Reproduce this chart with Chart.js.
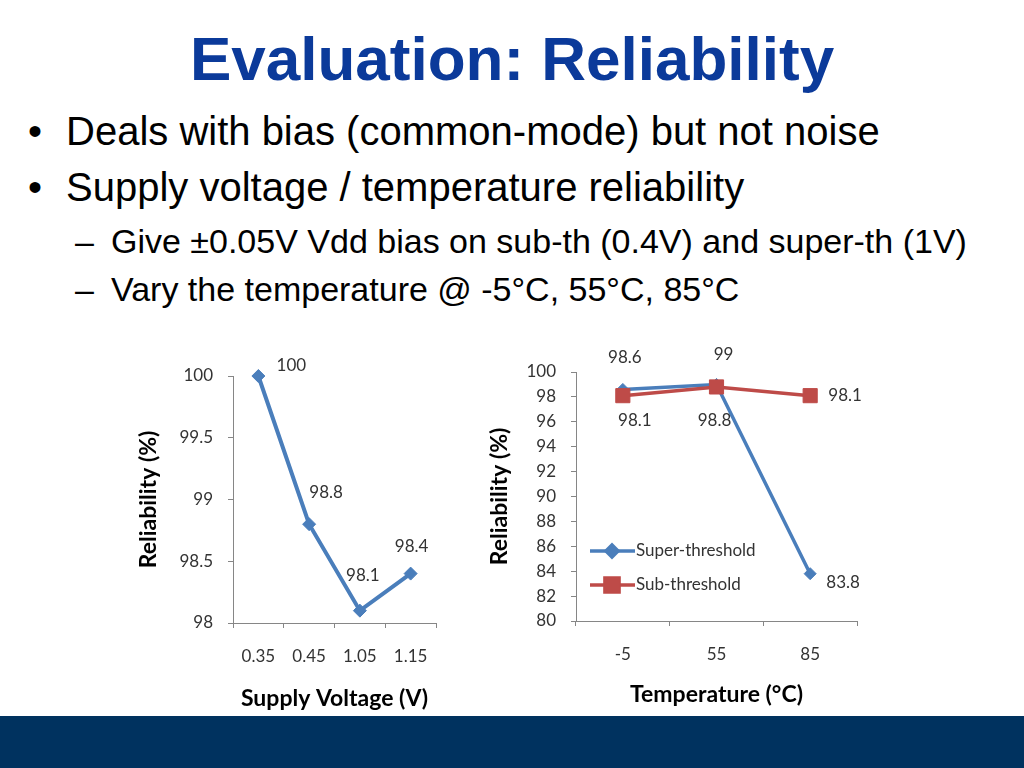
<!DOCTYPE html>
<html>
<head>
<meta charset="utf-8">
<script src="https://cdn.jsdelivr.net/npm/chart.js@4.4.1/dist/chart.umd.min.js"></script>
<style>
    html, body { margin: 0; padding: 0; background: #fff; }
    #slide { position: relative; width: 1024px; height: 768px; overflow: hidden; font-family: "Liberation Sans", Arial, sans-serif; }
    .txt { position: absolute; white-space: nowrap; line-height: 1; color: #000; }
    #title { left: 0; width: 1024px; text-align: center; top: 28px; font-size: 62px; font-weight: bold; color: #0b3a9a; }
    .l1 { font-size: 40px; }
    .l2 { font-size: 34px; }
    #footer { position: absolute; left: 0; top: 716px; width: 1024px; height: 52px; background: #00325f; }
    canvas { position: absolute; }
</style>
</head>
<body>
<div id="slide">
    <div id="title" class="txt">Evaluation: Reliability</div>
    <div class="txt l1" style="left:28px; top:111px;">•</div>
    <div class="txt l1" style="left:66px; top:111px;">Deals with bias (common-mode) but not noise</div>
    <div class="txt l1" style="left:28px; top:167px;">•</div>
    <div class="txt l1" style="left:66px; top:167px;">Supply voltage / temperature reliability</div>
    <div class="txt l2" style="left:75px; top:224px;">–</div>
    <div class="txt l2" style="left:111px; top:224px;">Give ±0.05V Vdd bias on sub-th (0.4V) and super-th (1V)</div>
    <div class="txt l2" style="left:75px; top:272px;">–</div>
    <div class="txt l2" style="left:111px; top:272px;">Vary the temperature @ -5°C, 55°C, 85°C</div>

    <canvas id="voltChart" width="320" height="370" style="left:130px; top:345px;"></canvas>
    <canvas id="tempChart" width="400" height="370" style="left:480px; top:345px;"></canvas>

    <div id="footer"></div>
</div>

<script>
// 数据
const voltLabels = ['0.35', '0.45', '1.05', '1.15'];
const voltReliability = [100, 98.8, 98.1, 98.4];

const tempLabels = ['-5', '55', '85'];
const superThreshold = [98.6, 99, 83.8];
const subThreshold = [98.1, 98.8, 98.1];

const BLUE = '#4a7ebb';
const RED = '#be4b48';
const AXIS = '#868686';
const TEXT = '#333333';
const FONT = 'Lato, "Open Sans", sans-serif';

// 数据标签插件（偏移量放在 dataset.labelOffsets）
const pointLabels = {
    id: 'pointLabels',
    afterDatasetsDraw(chart) {
        const ctx = chart.ctx;
        ctx.save();
        ctx.font = `17px ${FONT}`;
        ctx.fillStyle = TEXT;
        ctx.textAlign = 'center';
        ctx.textBaseline = 'middle';
        chart.data.datasets.forEach((ds, i) => {
            const meta = chart.getDatasetMeta(i);
            meta.data.forEach((pt, j) => {
                const off = ds.labelOffsets[j];
                ctx.fillText(String(ds.data[j]), pt.x + off[0], pt.y + off[1]);
            });
        });
        ctx.restore();
    }
};

// 图内图例
const insideLegend = {
    id: 'insideLegend',
    afterDraw(chart, args, opts) {
        if (!opts.show) return;
        const ctx = chart.ctx;
        ctx.save();
        chart.data.datasets.forEach((ds, i) => {
            const y = opts.y + i * opts.gap;
            ctx.strokeStyle = ds.borderColor;
            ctx.lineWidth = ds.borderWidth;
            ctx.beginPath();
            ctx.moveTo(opts.x, y);
            ctx.lineTo(opts.x + 45, y);
            ctx.stroke();
            Chart.helpers.drawPoint(ctx, {
                pointStyle: ds.pointStyle,
                radius: ds.pointRadius,
                borderWidth: 1
            }, opts.x + 22, y);
            ctx.fillStyle = ds.backgroundColor;
            ctx.fill();
            ctx.fillStyle = TEXT;
            ctx.font = `17px ${FONT}`;
            ctx.textBaseline = 'middle';
            ctx.textAlign = 'left';
            ctx.fillText(ds.label, opts.x + 46, y);
        });
        ctx.restore();
    }
};

function makeOptions(yMin, yMax, step, yTitle, xTitle, yWidth, xHeight, padding) {
    return {
        responsive: false,
        animation: false,
        devicePixelRatio: 1,
        layout: { padding: padding },
        plugins: {
            legend: { display: false },
            tooltip: { enabled: false },
            insideLegend: { show: false }
        },
        scales: {
            x: {
                offset: true,
                grid: { offset: true, drawOnChartArea: false, drawTicks: true, tickLength: 5, color: AXIS },
                border: { color: AXIS, width: 1 },
                ticks: { color: TEXT, font: { family: FONT, size: 17 }, padding: 18, maxRotation: 0 },
                title: { display: true, text: xTitle, color: '#000', font: { family: FONT, size: 23, weight: 'bold' }, padding: { top: 0, bottom: 3 } },
                afterFit: s => { s.height = xHeight; }
            },
            y: {
                min: yMin,
                max: yMax,
                grid: { drawOnChartArea: false, drawTicks: true, tickLength: 5, color: AXIS },
                border: { color: AXIS, width: 1 },
                ticks: { stepSize: step, color: TEXT, font: { family: FONT, size: 17 }, padding: 15, callback: v => String(v) },
                title: { display: true, text: yTitle, color: '#000', font: { family: FONT, size: 23, weight: 'bold' }, padding: { top: 5, bottom: 0 } },
                afterFit: s => { s.width = yWidth; }
            }
        }
    };
}

// 电压图
new Chart(document.getElementById('voltChart'), {
    type: 'line',
    data: {
        labels: voltLabels,
        datasets: [{
            label: 'Reliability',
            data: voltReliability,
            borderColor: BLUE,
            backgroundColor: BLUE,
            borderWidth: 4,
            pointStyle: 'rectRot',
            pointRadius: 6.5,
            pointBorderWidth: 1,
            tension: 0,
            clip: false,
            labelOffsets: [[33, -10], [17, -32], [3, -35], [1, -27]]
        }]
    },
    options: makeOptions(98, 100, 0.5, 'Reliability (%)', 'Supply Voltage (V)', 103, 92, { top: 31, right: 14, left: 0, bottom: 0 }),
    plugins: [pointLabels]
});

// 温度图
const tempOptions = makeOptions(80, 100, 2, 'Reliability (%)', 'Temperature (°C)', 96, 94, { top: 27, right: 23, left: 0, bottom: 0 });
tempOptions.scales.x.title.padding = { top: 0, bottom: 7 };
tempOptions.scales.y.title.padding = { top: 6, bottom: 0 };
tempOptions.plugins.insideLegend = { show: true, x: 110, y: 206, gap: 34 };

new Chart(document.getElementById('tempChart'), {
    type: 'line',
    data: {
        labels: tempLabels,
        datasets: [
            {
                label: 'Super-threshold',
                data: superThreshold,
                borderColor: BLUE,
                backgroundColor: BLUE,
                borderWidth: 3.5,
                pointStyle: 'rectRot',
                pointRadius: 6,
                pointBorderWidth: 1,
                order: 2,
                clip: false,
                labelOffsets: [[2, -32], [7, -30], [33, 9]]
            },
            {
                label: 'Sub-threshold',
                data: subThreshold,
                borderColor: RED,
                backgroundColor: RED,
                borderWidth: 3.5,
                pointStyle: 'rect',
                pointRadius: 10,
                pointBorderWidth: 1,
                order: 1,
                clip: false,
                labelOffsets: [[12, 25], [-2, 34], [35, 0]]
            }
        ]
    },
    options: tempOptions,
    plugins: [pointLabels, insideLegend]
});
</script>
</body>
</html>
